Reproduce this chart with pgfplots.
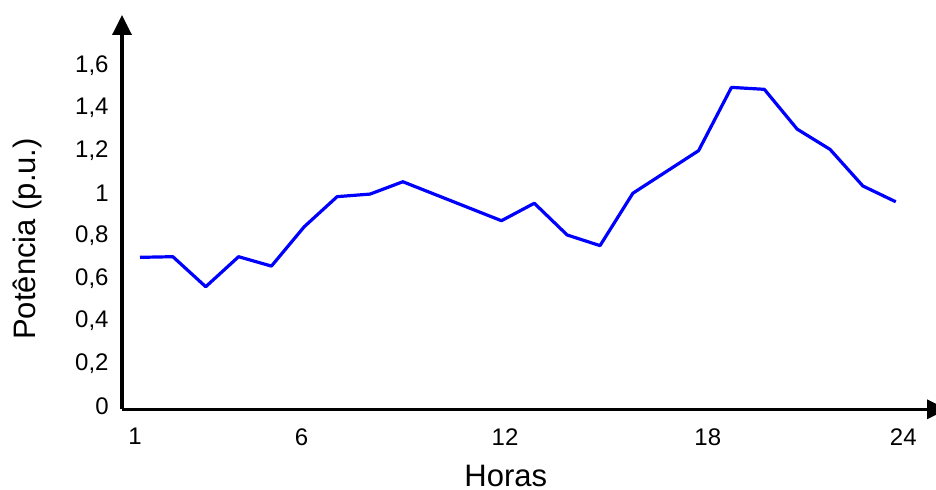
\documentclass[border=0pt]{standalone}
\usepackage{fontspec}
\setmainfont{Liberation Sans}
\usepackage{pgfplots}
\pgfplotsset{compat=1.18}
\usetikzlibrary{arrows.meta}
\begin{document}
\begin{tikzpicture}
\path[use as bounding box] (-61pt,-40.35pt) rectangle (407pt,204.65pt);
\begin{axis}[
  at={(0pt,0pt)}, anchor=south west,
  scale only axis,
  width=412.5pt, height=197.15pt,
  xmin=0.452, xmax=25.56,
  ymin=-0.0155, ymax=1.836,
  axis lines=left,
  axis line style={line width=1.75pt, -{Triangle[length=10pt,width=9.5pt]}},
  major tick length=0pt,
  xtick={0.85,5.92,12.11,18.28,24.23},
  xticklabels={1,6,12,18,24},
  ytick={0,0.2,0.4,0.6,0.8,1,1.2,1.4,1.6},
  yticklabels={0,{0,2},{0,4},{0,6},{0,8},1,{1,2},{1,4},{1,6}},
  /pgf/number format/assume math mode=true,
  tick label style={font=\fontsize{12}{14}\selectfont, inner sep=0pt},
  xticklabel shift=9.35pt,
  yticklabel shift=6.5pt,
  xlabel={Horas},
  ylabel={Potência (p.u.)},
  label style={font=\fontsize{15.5}{18}\selectfont},
  xlabel style={at={(axis description cs:0.4652,-0.168)}, anchor=center},
  ylabel style={at={(axis description cs:-0.1145,0.432)}, anchor=center},
  clip=false,
]
\addplot[color={rgb,255:red,0;green,0;blue,255}, line width=1.6pt, line join=round, mark=none] coordinates {
(1,0.698) (2,0.701) (3,0.560) (4,0.701) (5,0.657) (6,0.842) (7,0.983) (8,0.995)
(9,1.053) (10,0.992) (11,0.931) (12,0.870) (13,0.952) (14,0.803) (15,0.753) (16,0.999)
(17,1.099) (18,1.199) (19,1.496) (20,1.487) (21,1.300) (22,1.205) (23,1.033) (24,0.959)
};
\end{axis}
\end{tikzpicture}
\end{document}
